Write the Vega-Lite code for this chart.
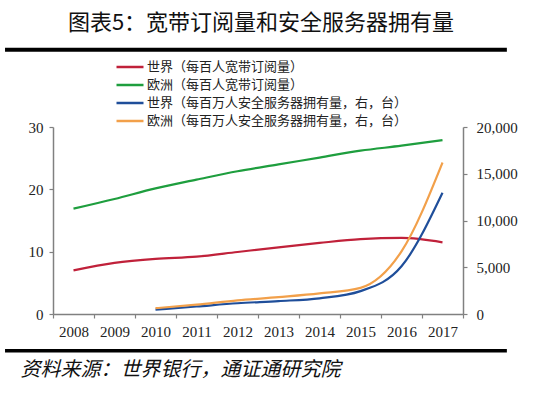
{
  "$schema": "https://vega.github.io/schema/vega-lite/v6.json",
  "width": 410,
  "height": 187,
  "autosize": {"type": "none"},
  "padding": {"left": 53, "top": 127, "right": 87, "bottom": 82},
  "background": "white",
  "title": {
    "text": "图表5：宽带订阅量和安全服务器拥有量",
    "font": "Noto Sans CJK SC",
    "fontSize": 22,
    "fontWeight": "normal",
    "color": "#111111",
    "anchor": "middle",
    "frame": "group",
    "offset": 13,
    "dx": 3
  },
  "config": {
    "view": {"stroke": null},
    "axis": {
      "grid": false,
      "domainColor": "#808080",
      "domainWidth": 1.5,
      "tickColor": "#808080",
      "tickWidth": 1.2,
      "tickSize": 4,
      "labelFont": "Liberation Serif",
      "labelFontSize": 15,
      "labelColor": "#222222"
    }
  },
  "datasets": {
    "broadband": [
      {"year": 2008, "series": "世界（每百人宽带订阅量）", "value": 7.0},
      {"year": 2009, "series": "世界（每百人宽带订阅量）", "value": 8.2},
      {"year": 2010, "series": "世界（每百人宽带订阅量）", "value": 8.85},
      {"year": 2011, "series": "世界（每百人宽带订阅量）", "value": 9.2},
      {"year": 2012, "series": "世界（每百人宽带订阅量）", "value": 9.95},
      {"year": 2013, "series": "世界（每百人宽带订阅量）", "value": 10.7},
      {"year": 2014, "series": "世界（每百人宽带订阅量）", "value": 11.4},
      {"year": 2015, "series": "世界（每百人宽带订阅量）", "value": 12.0},
      {"year": 2016, "series": "世界（每百人宽带订阅量）", "value": 12.2},
      {"year": 2017, "series": "世界（每百人宽带订阅量）", "value": 11.5},
      {"year": 2008, "series": "欧洲（每百人宽带订阅量）", "value": 16.9},
      {"year": 2009, "series": "欧洲（每百人宽带订阅量）", "value": 18.45},
      {"year": 2010, "series": "欧洲（每百人宽带订阅量）", "value": 20.15},
      {"year": 2011, "series": "欧洲（每百人宽带订阅量）", "value": 21.55},
      {"year": 2012, "series": "欧洲（每百人宽带订阅量）", "value": 22.9},
      {"year": 2013, "series": "欧洲（每百人宽带订阅量）", "value": 24.0},
      {"year": 2014, "series": "欧洲（每百人宽带订阅量）", "value": 25.1},
      {"year": 2015, "series": "欧洲（每百人宽带订阅量）", "value": 26.2},
      {"year": 2016, "series": "欧洲（每百人宽带订阅量）", "value": 27.0},
      {"year": 2017, "series": "欧洲（每百人宽带订阅量）", "value": 27.9}
    ],
    "servers": [
      {"year": 2010, "series": "世界（每百万人安全服务器拥有量，右，台）", "value": 460},
      {"year": 2011, "series": "世界（每百万人安全服务器拥有量，右，台）", "value": 800},
      {"year": 2012, "series": "世界（每百万人安全服务器拥有量，右，台）", "value": 1150},
      {"year": 2013, "series": "世界（每百万人安全服务器拥有量，右，台）", "value": 1380},
      {"year": 2014, "series": "世界（每百万人安全服务器拥有量，右，台）", "value": 1680},
      {"year": 2015, "series": "世界（每百万人安全服务器拥有量，右，台）", "value": 2450},
      {"year": 2016, "series": "世界（每百万人安全服务器拥有量，右，台）", "value": 5100},
      {"year": 2017, "series": "世界（每百万人安全服务器拥有量，右，台）", "value": 12970},
      {"year": 2010, "series": "欧洲（每百万人安全服务器拥有量，右，台）", "value": 620},
      {"year": 2011, "series": "欧洲（每百万人安全服务器拥有量，右，台）", "value": 1000},
      {"year": 2012, "series": "欧洲（每百万人安全服务器拥有量，右，台）", "value": 1450},
      {"year": 2013, "series": "欧洲（每百万人安全服务器拥有量，右，台）", "value": 1800},
      {"year": 2014, "series": "欧洲（每百万人安全服务器拥有量，右，台）", "value": 2200},
      {"year": 2015, "series": "欧洲（每百万人安全服务器拥有量，右，台）", "value": 2800},
      {"year": 2016, "series": "欧洲（每百万人安全服务器拥有量，右，台）", "value": 6700},
      {"year": 2017, "series": "欧洲（每百万人安全服务器拥有量，右，台）", "value": 16200}
    ]
  },
  "layer": [
    {
      "layer": [
        {
          "data": {"name": "broadband"},
          "mark": {"type": "line", "interpolate": "monotone", "strokeWidth": 2.2},
          "encoding": {
            "x": {
              "field": "year",
              "type": "quantitative",
              "scale": {"domain": [2007.5, 2017.5], "nice": false, "zero": false},
              "axis": {
                "values": [2007.5, 2008.5, 2009.5, 2010.5, 2011.5, 2012.5, 2013.5, 2014.5, 2015.5, 2016.5, 2017.5],
                "labelExpr": "datum.value < 2017 ? '' + (datum.value + 0.5) : ''",
                "labelOffset": 20.5,
                "labelFlush": false,
                "labelOverlap": false,
                "labelPadding": 6,
                "title": "资料来源：世界银行，通证通研究院",
                "titleFont": "Noto Sans CJK SC",
                "titleFontSize": 20,
                "titleFontStyle": "italic",
                "titleFontWeight": "normal",
                "titleColor": "#111111",
                "titleAlign": "left",
                "titleAnchor": "start",
                "titleBaseline": "middle",
                "titleX": -33,
                "titleY": 55
              }
            },
            "y": {
              "field": "value",
              "type": "quantitative",
              "scale": {"domain": [0, 30], "nice": false},
              "axis": {"orient": "left", "values": [0, 5, 10, 15, 20, 25, 30], "title": null, "labelPadding": 6}
            },
            "color": {
              "field": "series",
              "type": "nominal",
              "scale": {
                "domain": ["世界（每百人宽带订阅量）", "欧洲（每百人宽带订阅量）", "世界（每百万人安全服务器拥有量，右，台）", "欧洲（每百万人安全服务器拥有量，右，台）"],
                "range": ["#C0213A", "#1E9E3E", "#1F4E9A", "#F2A04A"]
              },
              "legend": {
                "orient": "none",
                "legendX": 62,
                "legendY": -68,
                "title": null,
                "padding": 0,
                "symbolType": "stroke",
                "symbolSize": 729,
                "symbolStrokeWidth": 2.5,
                "clipHeight": 16,
                "rowPadding": 2,
                "labelOffset": 2,
                "labelFont": "Noto Sans CJK SC",
                "labelFontSize": 13,
                "labelColor": "#222222",
                "labelLimit": 500
              }
            }
          }
        },
        {
          "data": {"values": [{}]},
          "mark": {"type": "rule", "color": "black", "strokeWidth": 4, "clip": false},
          "encoding": {
            "x": {"datum": 2006.33, "type": "quantitative", "scale": {"domain": [2007.5, 2017.5], "nice": false, "zero": false}, "title": "资料来源：世界银行，通证通研究院"},
            "x2": {"datum": 2018.57},
            "y": {"datum": 42.4, "type": "quantitative", "scale": {"domain": [0, 30], "nice": false}, "title": null}
          }
        },
        {
          "data": {"values": [{}]},
          "mark": {"type": "rule", "color": "black", "strokeWidth": 3.6, "clip": false},
          "encoding": {
            "x": {"datum": 2006.33, "type": "quantitative", "scale": {"domain": [2007.5, 2017.5], "nice": false, "zero": false}, "title": "资料来源：世界银行，通证通研究院"},
            "x2": {"datum": 2018.57},
            "y": {"datum": -5.9, "type": "quantitative", "scale": {"domain": [0, 30], "nice": false}, "title": null}
          }
        }
      ]
    },
    {
      "data": {"name": "servers"},
      "mark": {"type": "line", "interpolate": "monotone", "strokeWidth": 2.2},
      "encoding": {
        "x": {
          "field": "year",
          "type": "quantitative",
          "scale": {"domain": [2007.5, 2017.5], "nice": false, "zero": false},
          "title": "资料来源：世界银行，通证通研究院"
        },
        "y": {
          "field": "value",
          "type": "quantitative",
          "scale": {"domain": [0, 20000], "nice": false},
          "axis": {"orient": "right", "values": [0, 5000, 10000, 15000, 20000], "format": ",.0f", "title": null, "labelPadding": 9}
        },
        "color": {
          "field": "series",
          "type": "nominal",
          "scale": {
            "domain": ["世界（每百人宽带订阅量）", "欧洲（每百人宽带订阅量）", "世界（每百万人安全服务器拥有量，右，台）", "欧洲（每百万人安全服务器拥有量，右，台）"],
            "range": ["#C0213A", "#1E9E3E", "#1F4E9A", "#F2A04A"]
          }
        }
      }
    }
  ],
  "resolve": {"scale": {"y": "independent"}}
}
